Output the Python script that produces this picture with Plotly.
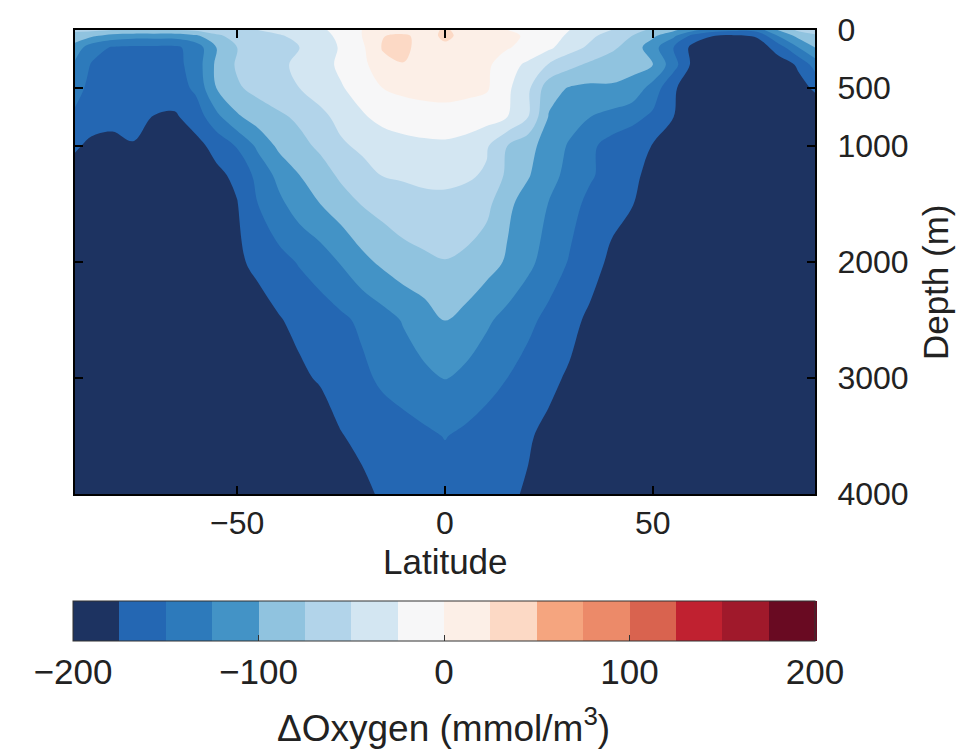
import plotly.graph_objects as go

# Zonal-mean change in dissolved oxygen (mmol/m^3) by latitude and depth
latitude = [-89, -85, -80, -75, -70, -65, -60, -55, -50, -45, -40, -35, -30,
            -25, -20, -15, -10, -5, 0, 5, 10, 15, 20, 25, 30, 35, 40, 45,
            50, 55, 60, 65, 70, 75, 80, 85, 89]

depth = [0, 50, 150, 300, 500, 750, 1000, 1250, 1500, 2000, 2500, 3000, 3500, 4000]

# one row per depth level, one value per latitude
delta_oxygen = [
    # 0 m
    [-70, -70, -75, -75, -75, -75, -70, -60, -55, -50, -45, -40, -30,
     -15, 0, 10, 12, 10, 30, 10, 5, 0, -5, -10, -25, -35, -50, -65,
     -80, -95, -120, -140, -145, -140, -100, -70, -60],
    # 50 m
    [-85, -95, -110, -115, -115, -115, -105, -80, -65, -58, -52, -45, -35,
     -18, 0, 24, 30, 15, 30, 18, 10, 5, -3, -12, -30, -45, -60, -75,
     -95, -120, -160, -175, -178, -172, -125, -92, -80],
    # 150 m
    [-110, -140, -152, -155, -155, -155, -140, -100, -75, -65, -58, -50, -40,
     -22, -5, 27, 31, 15, 20, 15, 8, 2, -8, -20, -40, -55, -70, -85,
     -115, -150, -185, -192, -193, -190, -165, -125, -100],
    # 300 m
    [-130, -152, -158, -160, -160, -158, -140, -95, -72, -62, -55, -45, -35,
     -20, -8, 18, 24, 12, 15, 10, 5, -15, -30, -52, -68, -80, -88, -93,
     -100, -140, -185, -195, -196, -195, -188, -172, -140],
    # 500 m
    [-140, -158, -160, -162, -165, -163, -145, -100, -78, -68, -58, -50, -38,
     -27, -15, 0, 5, 7, 8, 6, 3, -20, -45, -90, -102, -105, -103, -108,
     -135, -172, -190, -195, -196, -196, -192, -182, -172],
    # 750 m
    [-155, -165, -168, -165, -176, -178, -165, -132, -104, -88, -80, -70, -57,
     -42, -28, -18, -12, -9, -8, -10, -15, -25, -50, -102, -115, -125, -133, -142,
     -155, -175, -190, -195, -196, -196, -196, -195, -190],
    # 1000 m
    [-172, -180, -182, -177, -183, -185, -182, -168, -148, -120, -95, -83, -70,
     -54, -45, -38, -34, -31, -30, -35, -47, -75, -92, -111, -128, -145, -160, -168,
     -176, -190, -195, -196, -196, -196, -196, -196, -195],
    # 1250 m
    [-185, -186, -188, -188, -190, -190, -188, -180, -170, -142, -118, -100, -87,
     -70, -60, -49, -47, -45, -45, -46, -53, -80, -98, -116, -133, -147, -160, -170,
     -182, -194, -196, -196, -196, -196, -196, -196, -196],
    # 1500 m
    [-192, -193, -194, -194, -195, -195, -194, -188, -176, -150, -131, -113, -100,
     -87, -74, -66, -60, -56, -55, -60, -68, -95, -110, -126, -141, -157, -167, -174,
     -185, -195, -196, -196, -196, -196, -196, -196, -196],
    # 2000 m
    [-196, -196, -196, -196, -196, -196, -196, -196, -180, -168, -158, -148, -138,
     -123, -107, -95, -85, -80, -76, -80, -90, -103, -119, -136, -152, -165, -180, -192,
     -196, -196, -196, -196, -196, -196, -196, -196, -196],
    # 2500 m
    [-196, -196, -196, -196, -196, -196, -196, -196, -196, -188, -177, -168, -162,
     -155, -145, -135, -123, -112, -99, -108, -121, -133, -144, -157, -168, -180, -192, -196,
     -196, -196, -196, -196, -196, -196, -196, -196, -196],
    # 3000 m
    [-196, -196, -196, -196, -196, -196, -196, -196, -196, -196, -196, -180, -172,
     -165, -156, -145, -138, -130, -124, -131, -140, -150, -160, -170, -178, -188, -196, -196,
     -196, -196, -196, -196, -196, -196, -196, -196, -196],
    # 3500 m
    [-196, -196, -196, -196, -196, -196, -196, -196, -196, -196, -196, -196, -192,
     -176, -170, -165, -160, -155, -149, -155, -162, -168, -173, -180, -190, -196, -196, -196,
     -196, -196, -196, -196, -196, -196, -196, -196, -196],
    # 4000 m
    [-196, -196, -196, -196, -196, -196, -196, -196, -196, -196, -196, -196, -196,
     -195, -180, -172, -168, -165, -163, -165, -168, -172, -177, -190, -196, -196, -196, -196,
     -196, -196, -196, -196, -196, -196, -196, -196, -196],
]

# 16 discrete classes, 25 mmol/m^3 wide, from -200 to 200
band_colors = ["#1d3361", "#2467b3", "#2d7abb", "#4393c6",
               "#90c3df", "#b2d4ea", "#d3e6f2", "#f7f7f8",
               "#fcefe7", "#fcd9c5", "#f5a57f", "#ec8a69",
               "#d9634f", "#c02130", "#a0192b", "#690a22"]
z_min, z_max, z_step = -200, 200, 25

depth_ticks = [0, 500, 1000, 2000, 3000, 4000]
lat_ticks = [-50, 0, 50]
cbar_ticks = [-200, -100, 0, 100, 200]

n = len(band_colors)
colorscale = []
for i, c in enumerate(band_colors):
    colorscale.append([i / n, c])
    colorscale.append([(i + 1) / n, c])

FONT = "Liberation Sans, Arial, Helvetica, sans-serif"
INK = "#222222"

# pixel geometry of the plotting box
W, H = 971, 753
left, right, top, bottom = 75, 815, 21, 494
plot_w = right - left
plot_h = bottom - top


def px_x(p):
    return (p - left) / plot_w


def px_y(p):
    return (bottom - p) / plot_h


fig = go.Figure(go.Contour(
    x=latitude,
    y=depth,
    z=delta_oxygen,
    zmin=z_min,
    zmax=z_max,
    colorscale=colorscale,
    contours=dict(start=z_min, end=z_max, size=z_step, coloring="fill"),
    line=dict(width=0, smoothing=1.0),
    colorbar=dict(
        orientation="h",
        x=px_x(444), xanchor="center",
        y=px_y(603), yanchor="top",
        len=742 / plot_w, lenmode="fraction",
        thickness=40, thicknessmode="pixels",
        xpad=0, ypad=0,
        outlinewidth=1, outlinecolor="#333333",
        ticks="inside", ticklen=6, tickcolor="#333333",
        tickvals=cbar_ticks,
        tickfont=dict(family=FONT, size=35, color=INK),
    ),
    hoverinfo="skip",
))

fig.update_layout(
    width=W, height=H,
    margin=dict(l=left, r=W - right, t=top, b=H - bottom, pad=0),
    paper_bgcolor="white",
    plot_bgcolor="white",
    font=dict(family=FONT, size=32, color=INK),
    xaxis=dict(
        range=[-89, 89],
        tickvals=lat_ticks,
        ticks="inside", ticklen=8, tickwidth=1.5, tickcolor="black",
        showline=True, linecolor="black", linewidth=2, mirror="ticks",
        showgrid=False, zeroline=False,
        tickfont=dict(family=FONT, size=32, color=INK),
    ),
    yaxis=dict(
        range=[4000, 0],
        side="right",
        tickvals=depth_ticks,
        ticks="inside", ticklen=8, tickwidth=1.5, tickcolor="black",
        ticklabelstandoff=14,
        showline=True, linecolor="black", linewidth=2, mirror="ticks",
        showgrid=False, zeroline=False,
        tickfont=dict(family=FONT, size=32, color=INK),
    ),
    annotations=[
        dict(text="Latitude", x=px_x(445), y=px_y(563),
             xref="paper", yref="paper", showarrow=False,
             xanchor="center", yanchor="middle",
             font=dict(family=FONT, size=35, color=INK)),
        dict(text="Depth (m)", x=px_x(935), y=px_y(278), textangle=-90,
             xref="paper", yref="paper", showarrow=False,
             xanchor="center", yanchor="middle",
             font=dict(family=FONT, size=35, color=INK)),
        dict(text="\u0394Oxygen (mmol/m<sup>3</sup>)", x=px_x(443), y=px_y(730),
             xref="paper", yref="paper", showarrow=False,
             xanchor="center", yanchor="middle",
             font=dict(family=FONT, size=37, color=INK)),
    ],
)

fig.write_html("out.html")
